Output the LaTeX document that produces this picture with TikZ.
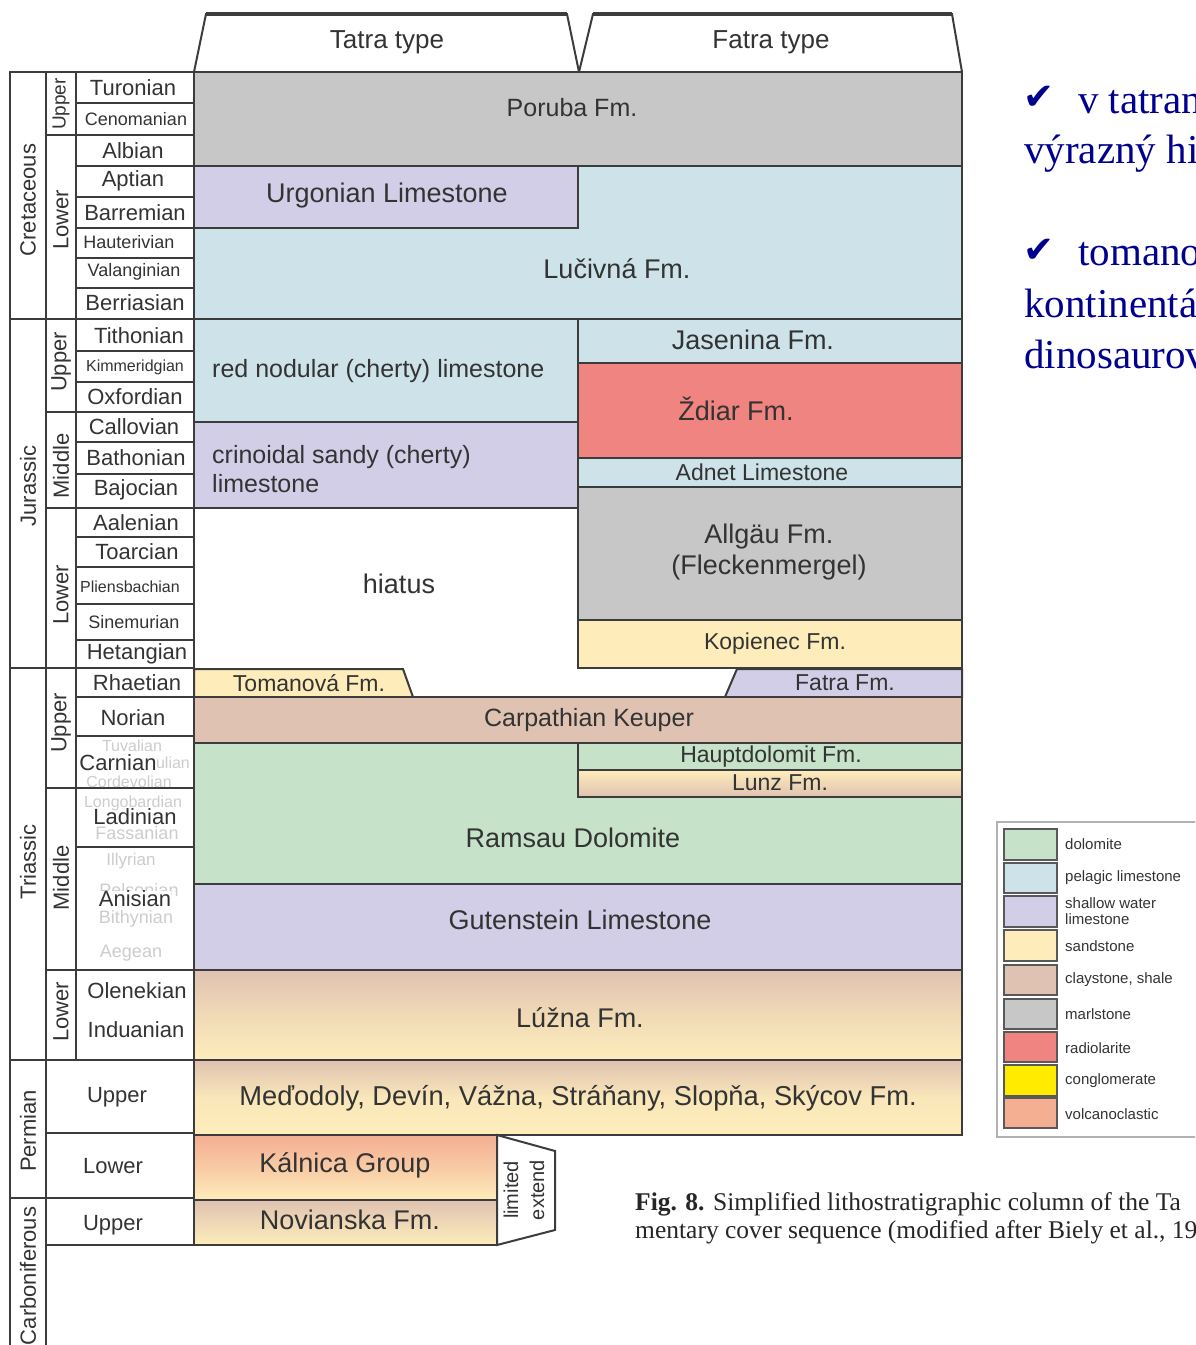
\documentclass[tikz,border=0pt]{standalone}
\usepackage{fontspec}
\setmainfont{Liberation Sans}
\newfontfamily\capfont{Liberation Serif}
\newfontfamily\symfont{DejaVu Sans}
\definecolor{edge}{HTML}{3C3C3C}
\definecolor{txt}{HTML}{333333}
\definecolor{dolo}{HTML}{C6E3CA}
\definecolor{pelag}{HTML}{CDE2E9}
\definecolor{shallow}{HTML}{D3CEE8}
\definecolor{sand}{HTML}{FEEDBB}
\definecolor{clay}{HTML}{DFC2B1}
\definecolor{marl}{HTML}{C7C7C7}
\definecolor{radio}{HTML}{EF8480}
\definecolor{congl}{HTML}{FFEB00}
\definecolor{volc}{HTML}{F4AE92}
\definecolor{navy}{HTML}{00008F}
\tikzset{
  bed/.style={draw=edge, line width=2pt},
  cell/.style={draw=edge, line width=2pt},
  fm/.style={font=\fontsize{27}{31}\selectfont, text=txt, inner sep=0pt, align=center},
  fmm/.style={fm, font=\fontsize{25}{29}\selectfont},
  fms/.style={fm, font=\fontsize{23}{26}\selectfont},
  hd/.style={fm, font=\fontsize{26}{30}\selectfont},
  stg/.style={font=\fontsize{22}{24}\selectfont, text=txt, inner sep=0pt},
  stgs/.style={stg, font=\fontsize{18}{20}\selectfont},
  stgxs/.style={stg, font=\fontsize{16}{18}\selectfont},
  sub/.style={stg, text=gray!40},
  ep/.style={stg, rotate=90},
  lim/.style={font=\fontsize{20}{26}\selectfont, text=txt, inner sep=0pt, align=center, rotate=90},
  sw/.style={draw=gray!70!black, line width=1.5pt},
  leg/.style={font=\fontsize{15}{16}\selectfont, text=txt, inner sep=0pt, anchor=west, align=left},
  note/.style={font=\fontsize{41}{51}\selectfont\capfont, text=navy, inner sep=0pt, anchor=base west},
  chk/.style={font=\fontsize{37}{40}\selectfont\symfont, text=navy, inner sep=0pt, anchor=base west},
  captxt/.style={font=\fontsize{25.5}{28}\selectfont\capfont, text=black!85, inner sep=0pt, anchor=base west},
}

\begin{document}
\begin{tikzpicture}[x=1pt,y=-1pt]
\useasboundingbox (0,0) rectangle (1195,1345);
\clip (0,0) rectangle (1195,1345);

% headers
\draw[cell] (194,72) -- (206,14) -- (567,14) -- (579,72);
\draw[cell] (579,72) -- (593,14) -- (952,14) -- (962,72);
\draw[edge, line width=3.5pt] (206,14) -- (567,14) (593,14) -- (952,14);
\node[hd] (tatra) at (387,42) {Tatra type};
\node[hd] (fatrat) at (771,42) {Fatra type};

% beds
\draw[bed, fill=marl] (194,72) rectangle (962,166);
\draw[bed, fill=shallow] (194,166) rectangle (578,228);
\draw[bed, fill=pelag] (578,166) -- (962,166) -- (962,319) -- (194,319) -- (194,228) -- (578,228) -- cycle;
\draw[bed, fill=pelag] (194,319) rectangle (578,422);
\draw[bed, fill=shallow] (194,422) rectangle (578,508);
\draw[bed, fill=pelag] (578,319) rectangle (962,363);
\draw[bed, fill=radio] (578,363) rectangle (962,458);
\draw[bed, fill=pelag] (578,458) rectangle (962,487);
\draw[bed, fill=marl] (578,487) rectangle (962,620);
\draw[bed, fill=sand] (578,620) rectangle (962,668);
\draw[bed, fill=sand] (194,669) -- (403,669) -- (413,697) -- (194,697) -- cycle;
\draw[bed, fill=shallow] (737,669) -- (962,669) -- (962,697) -- (725,697) -- cycle;
\draw[bed, fill=clay] (194,697) rectangle (962,743);
\draw[bed, fill=dolo] (194,743) -- (578,743) -- (578,797) -- (962,797) -- (962,884) -- (194,884) -- cycle;
\draw[bed, fill=dolo] (578,743) rectangle (962,770);
\draw[bed, top color=sand, bottom color=clay, middle color=sand!50!clay] (578,770) rectangle (962,797);
\draw[bed, fill=shallow] (194,884) rectangle (962,970);
\draw[bed, top color=clay, bottom color=sand, middle color=clay!45!sand] (194,970) rectangle (962,1060);
\draw[bed, top color=clay, bottom color=sand, middle color=sand!85!clay] (194,1060) rectangle (962,1135);
\draw[bed, top color=volc, bottom color=sand, middle color=volc!55!sand] (194,1135) rectangle (497,1200);
\draw[bed, top color=clay, bottom color=sand] (194,1200) rectangle (497,1245);
\draw[bed, fill=white] (497,1135) -- (555,1151) -- (555,1230) -- (497,1245) -- cycle;

% time scale
\draw[cell] (10,72) rectangle (46,319);
\draw[cell] (10,319) rectangle (46,668);
\draw[cell] (10,668) rectangle (46,1060);
\draw[cell] (10,1060) rectangle (46,1198);
\draw[cell] (10,1350) -- (10,1198) -- (46,1198) -- (46,1350);
\draw[cell] (46,72) rectangle (76,135);
\draw[cell] (46,135) rectangle (76,319);
\draw[cell] (46,319) rectangle (76,412);
\draw[cell] (46,412) rectangle (76,508);
\draw[cell] (46,508) rectangle (76,668);
\draw[cell] (46,668) rectangle (76,788);
\draw[cell] (46,788) rectangle (76,970);
\draw[cell] (46,970) rectangle (76,1060);
\draw[cell] (76,72) rectangle (194,1060);
\foreach \y in {103,135,166,197,228,258,288,319,351,382,412,442,474,508,537,567,604,640,668,697,736,788,847,970}
  \draw[cell] (76,\y) -- (194,\y);
\draw[cell] (46,1060) rectangle (194,1133);
\draw[cell] (46,1133) rectangle (194,1198);
\draw[cell] (46,1198) rectangle (194,1245);

% periods and epochs
\node[ep] (cret) at (28,200) {Cretaceous};
\node[ep] (jur) at (28,486) {Jurassic};
\node[ep] (tri) at (28,862) {Triassic};
\node[ep] (perm) at (28,1131) {Permian};
\node[ep] (carb) at (28,1276) {Carboniferous};
\node[ep, font=\fontsize{19}{21}\selectfont] (cretU) at (61,104) {Upper};
\node[ep] (cretL) at (61,220) {Lower};
\node[ep] (jurU) at (61,362) {Upper};
\node[ep] (jurM) at (61,466) {Middle};
\node[ep] (jurL) at (61,595) {Lower};
\node[ep] (triU) at (61,723) {Upper};
\node[ep] (triM) at (61,878) {Middle};
\node[ep] (triL) at (61,1012) {Lower};
\node[stg] (permU) at (117,1097) {Upper};
\node[stg] (permL) at (113,1166) {Lower};
\node[stg] (carbU) at (113,1225) {Upper};

% stages
\node[stg] (turon) at (133,88) {Turonian};
\node[stgs] (cenom) at (136,119) {Cenomanian};
\node[stg] (alb) at (133,151) {Albian};
\node[stg] (apt) at (133,181) {Aptian};
\node[stg] (barr) at (135,213) {Barremian};
\node[stgs] (haut) at (129,242) {Hauterivian};
\node[stgs] (valan) at (134,272) {Valanginian};
\node[stg] (berr) at (135,303) {Berriasian};
\node[stg] (tith) at (139,336) {Tithonian};
\node[stgxs] (kimm) at (135,367) {Kimmeridgian};
\node[stg] (oxf) at (135,397) {Oxfordian};
\node[stg] (call) at (134,427) {Callovian};
\node[stg] (bath) at (136,458) {Bathonian};
\node[stg] (bajoc) at (136,490) {Bajocian};
\node[stg] (aal) at (136,523) {Aalenian};
\node[stg] (toar) at (137,552) {Toarcian};
\node[stgxs] (plien) at (130,587) {Pliensbachian};
\node[stgs] (sinem) at (134,622) {Sinemurian};
\node[stg] (hetan) at (137,654) {Hetangian};
\node[stg] (rhaet) at (137,683) {Rhaetian};
\node[stg] (nor) at (133,718) {Norian};
\node[sub, font=\fontsize{16}{18}\selectfont] (tuval) at (132,746) {Tuvalian};
\node[sub, font=\fontsize{16}{18}\selectfont] (julian) at (169,763) {Julian};
\node[sub, font=\fontsize{16}{18}\selectfont] (cordev) at (129,782) {Cordevolian};
\node[stg, fill=white] (carn) at (118,763) {Carnian};
\node[sub, font=\fontsize{16}{18}\selectfont] (longob) at (133,803) {Longobardian};
\node[sub, font=\fontsize{18}{20}\selectfont] (fassan) at (137,833) {Fassanian};
\node[stg] (ladin) at (135,817) {Ladinian};
\node[sub, font=\fontsize{17}{19}\selectfont] (illyr) at (131,861) {Illyrian};
\node[sub, font=\fontsize{18}{20}\selectfont] (pelson) at (139,890) {Pelsonian};
\node[sub, font=\fontsize{18}{20}\selectfont] (bithyn) at (136,919) {Bithynian};
\node[sub, font=\fontsize{18}{20}\selectfont] (aegean) at (131,953) {Aegean};
\node[stg, fill=white] (anis) at (135,899) {Anisian};
\node[stg] (olen) at (137,991) {Olenekian};
\node[stg] (indu) at (136,1030) {Induanian};

% formation names
\node[fmm] (poruba) at (572,108) {Poruba Fm.};
\node[fm] (urgon) at (387,196) {Urgonian Limestone};
\node[fm] (lucivna) at (617,269) {Lučivná Fm.};
\node[fmm, anchor=west] (rednod) at (212,371) {red nodular (cherty) limestone};
\node[fmm, anchor=west, align=left] (crino) at (212,469) {crinoidal sandy (cherty)\\limestone};
\node[fm] (hiatus) at (399,584) {hiatus};
\node[fm] (jasen) at (753,340) {Jasenina Fm.};
\node[fm] (zdiar) at (736,409) {Ždiar Fm.};
\node[fms] (adnet) at (762,472) {Adnet Limestone};
\node[fm] (allgau) at (769,552) {Allgäu Fm.\\(Fleckenmergel)};
\node[fms] (kopien) at (775,644) {Kopienec Fm.};
\node[fms] (tomanova) at (309,683) {Tomanová Fm.};
\node[fms] (fatra) at (845,683) {Fatra Fm.};
\node[fmm] (keuper) at (589,720) {Carpathian Keuper};
\node[fms] (haupt) at (771,757) {Hauptdolomit Fm.};
\node[fms] (lunz) at (780,783) {Lunz Fm.};
\node[fm] (ramsau) at (573,838) {Ramsau Dolomite};
\node[fm] (guten) at (580,920) {Gutenstein Limestone};
\node[fm] (luzna) at (580,1018) {Lúžna Fm.};
\node[fm, font=\fontsize{27.3}{31}\selectfont] (medo) at (578,1098) {Meďodoly, Devín, Vážna, Stráňany, Slopňa, Skýcov Fm.};
\node[fm] (kalnica) at (345,1165) {Kálnica Group};
\node[fm] (novian) at (350,1220) {Novianska Fm.};
\node[lim] (limext) at (524,1190) {limited\\extend};

% legend
\draw[draw=gray!60, line width=1.2pt] (997,822) rectangle (1210,1137);
\draw[sw, fill=dolo] (1004,829) rectangle (1057,860);
\draw[sw, fill=pelag] (1004,863) rectangle (1057,893);
\draw[sw, fill=shallow] (1004,896) rectangle (1057,927);
\draw[sw, fill=sand] (1004,930) rectangle (1057,961);
\draw[sw, fill=clay] (1004,965) rectangle (1057,995);
\draw[sw, fill=marl] (1004,999) rectangle (1057,1029);
\draw[sw, fill=radio] (1004,1032) rectangle (1057,1062);
\draw[sw, fill=congl] (1004,1065) rectangle (1057,1096);
\draw[sw, fill=volc] (1004,1098) rectangle (1057,1128);
\node[leg] (ldolo) at (1065,844) {dolomite};
\node[leg] (lpelag) at (1065,878) {pelagic limestone};
\node[leg] (lshallow) at (1065,911) {shallow water\\limestone};
\node[leg] (lsand) at (1065,946) {sandstone};
\node[leg] (lclay) at (1065,980) {claystone, shale};
\node[leg] (lmarl) at (1065,1014) {marlstone};
\node[leg] (lradio) at (1065,1048) {radiolarite};
\node[leg] (lcongl) at (1065,1081) {conglomerate};
\node[leg] (lvolc) at (1065,1114) {volcanoclastic};

% notes on the right
\node[chk] (chkA) at (1023,109) {✔};
\node[note] (noteA) at (1078,113) {v tatran};
\node[note] (noteB) at (1024,163) {výrazný hi};
\node[chk] (chkB) at (1023,262) {✔};
\node[note] (noteC) at (1078,265) {tomano};
\node[note] (noteD) at (1024,317) {kontinentá};
\node[note] (noteE) at (1024,368) {dinosaurov};

% caption
\node[captxt] (capA) at (635,1210) {\textbf{Fig. 8.} Simplified lithostratigraphic column of the Ta};
\node[captxt] (capB) at (635,1238) {mentary cover sequence (modified after Biely et al., 19};
\end{tikzpicture}
\end{document}
